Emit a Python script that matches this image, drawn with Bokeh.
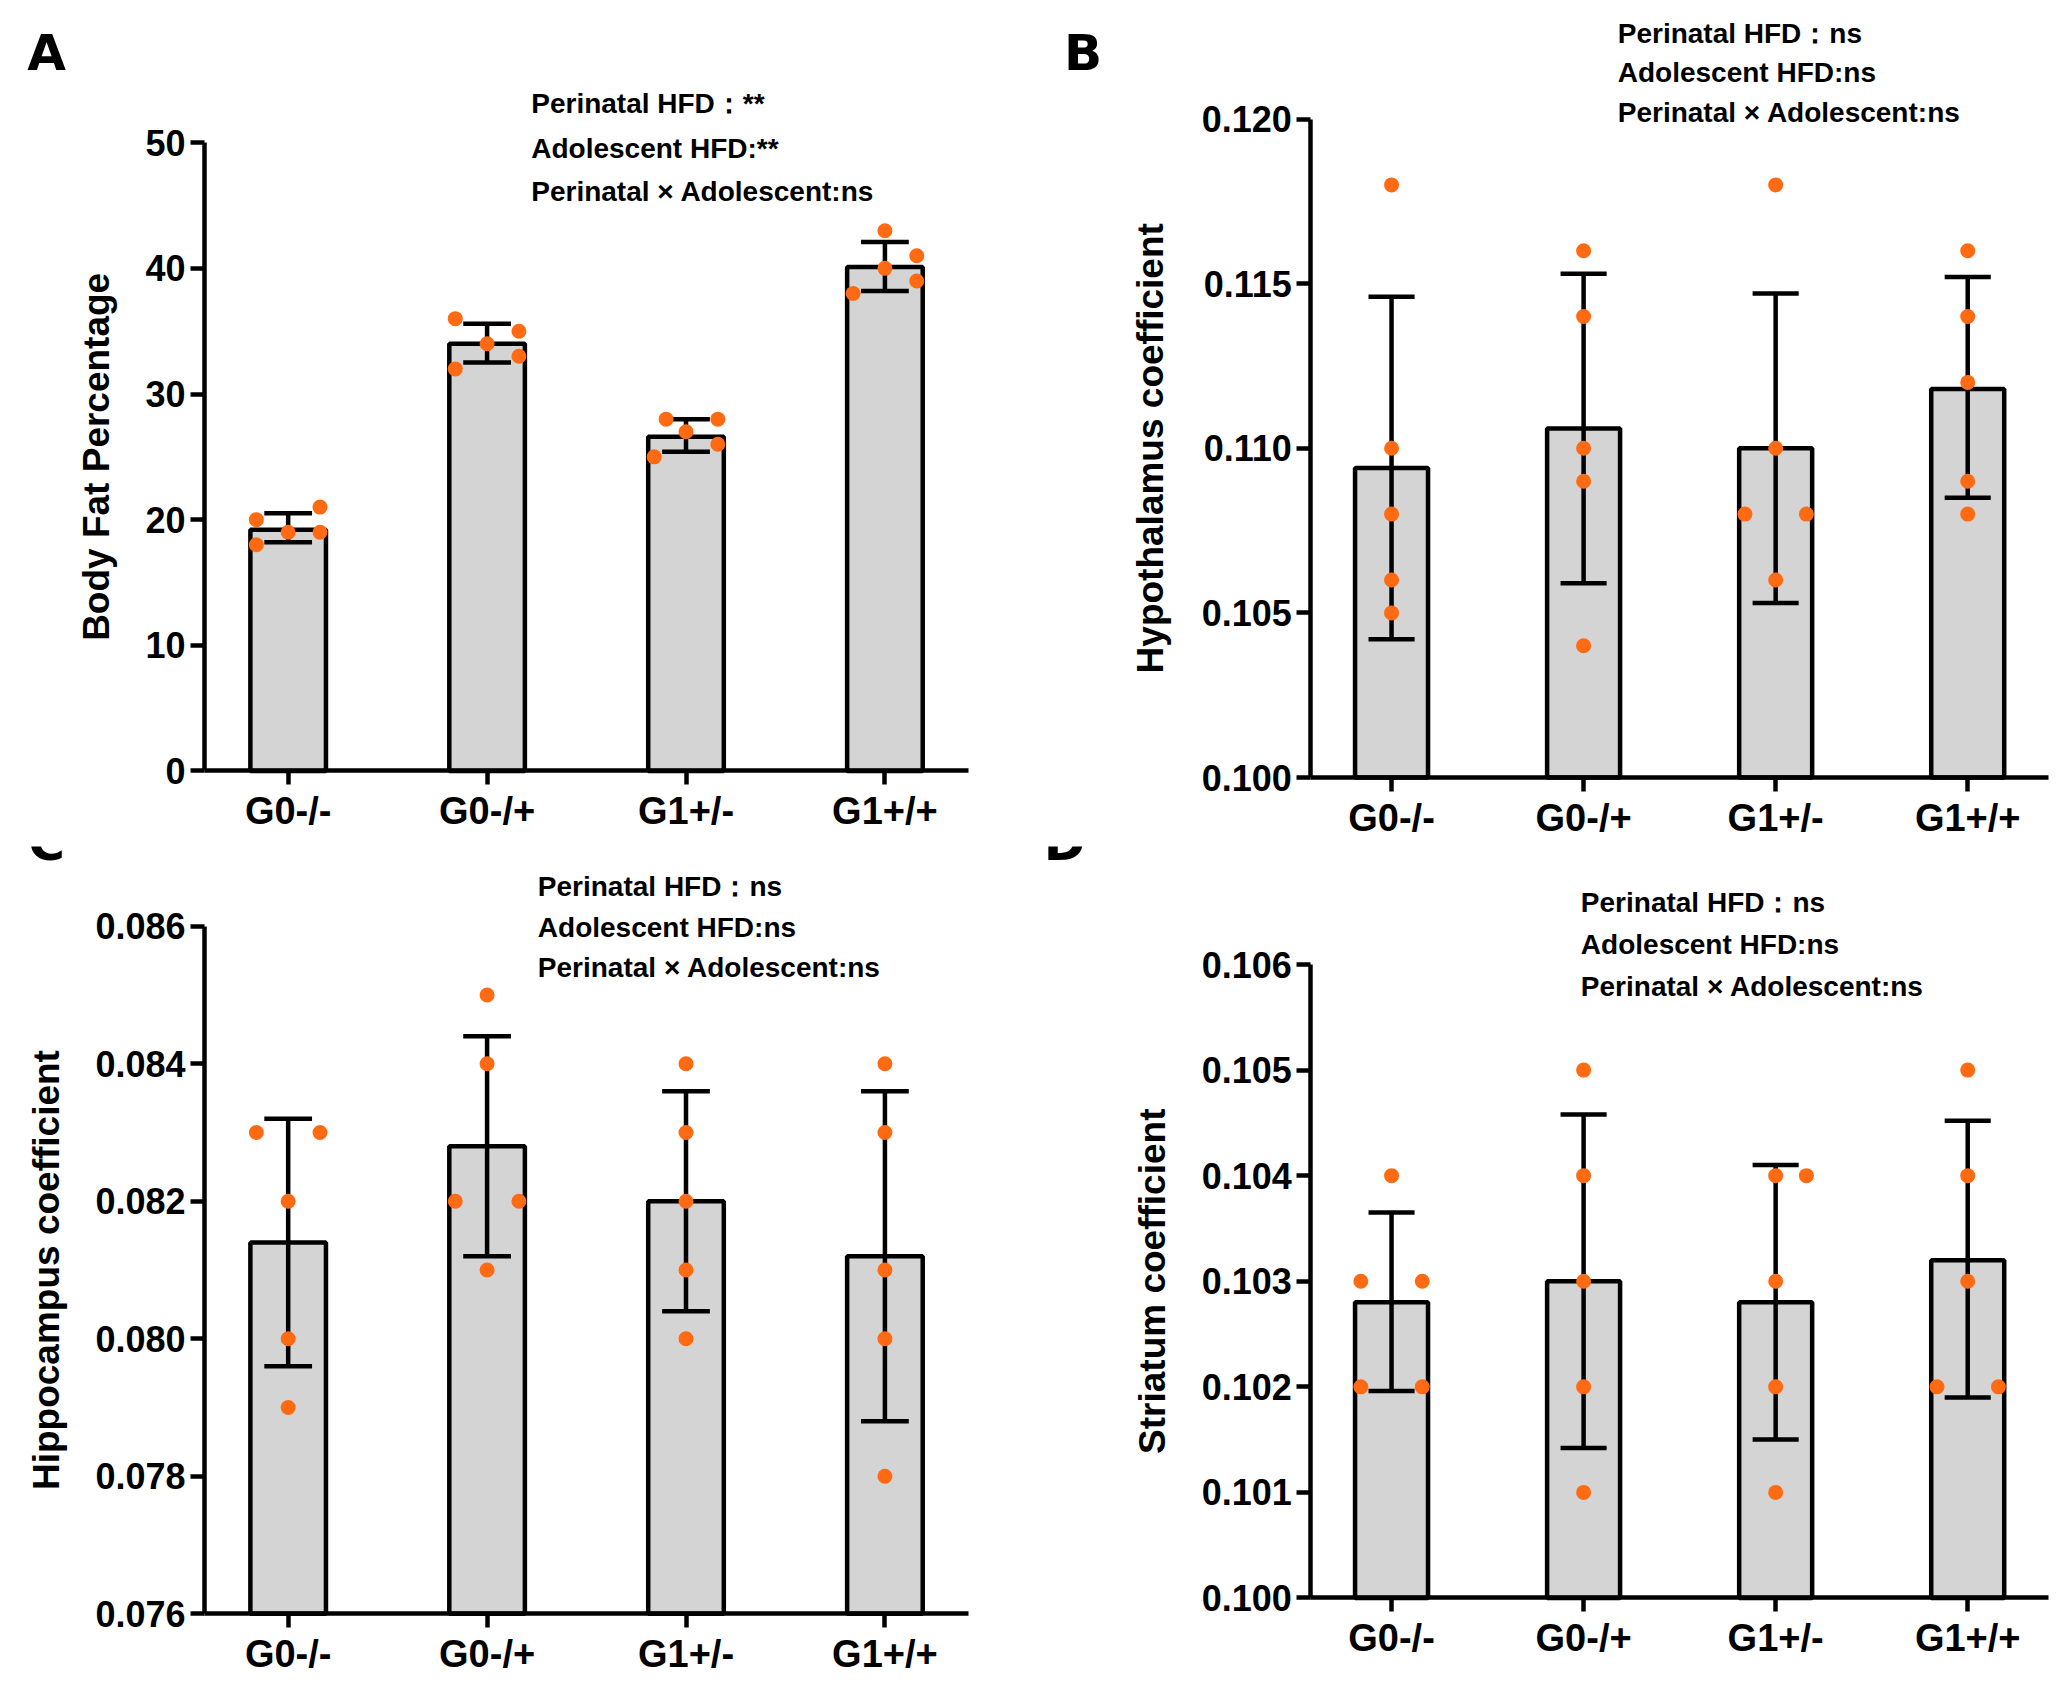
import math
from bokeh.plotting import figure
from bokeh.layouts import gridplot
from bokeh.models import Range1d, Label, FixedTicker, NumeralTickFormatter
from bokeh.embed import file_html
from bokeh.resources import INLINE

cats = ["G0-/-", "G0-/+", "G1+/-", "G1+/+"]

a_mean = [19.2, 34.0, 26.6, 40.1]
a_lo = [18.2, 32.5, 25.4, 38.2]
a_hi = [20.5, 35.6, 28.0, 42.1]
a_pts = [[18, 20, 19, 19, 21], [32, 36, 34, 35, 33], [25, 28, 27, 28, 26], [38, 43, 40, 41, 39]]

b_mean = [0.1094, 0.1106, 0.1100, 0.1118]
b_lo = [0.1042, 0.1059, 0.1053, 0.1085]
b_hi = [0.1146, 0.1153, 0.1147, 0.1152]
b_pts = [[0.118, 0.110, 0.108, 0.106, 0.105], [0.116, 0.114, 0.110, 0.109, 0.104],
         [0.118, 0.110, 0.108, 0.108, 0.106], [0.116, 0.114, 0.112, 0.109, 0.108]]

c_mean = [0.0814, 0.0828, 0.0820, 0.0812]
c_lo = [0.0796, 0.0812, 0.0804, 0.0788]
c_hi = [0.0832, 0.0844, 0.0836, 0.0836]
c_pts = [[0.083, 0.083, 0.082, 0.080, 0.079], [0.085, 0.084, 0.082, 0.082, 0.081],
         [0.084, 0.083, 0.082, 0.081, 0.080], [0.084, 0.083, 0.081, 0.080, 0.078]]

d_mean = [0.1028, 0.1030, 0.1028, 0.1032]
d_lo = [0.10196, 0.10142, 0.1015, 0.1019]
d_hi = [0.10365, 0.10458, 0.1041, 0.10452]
d_pts = [[0.104, 0.103, 0.103, 0.102, 0.102], [0.105, 0.104, 0.103, 0.102, 0.101],
         [0.104, 0.104, 0.103, 0.102, 0.101], [0.105, 0.104, 0.103, 0.102, 0.102]]

# horizontal offsets of dots (layout)
a_off = [[-0.16, -0.16, 0, 0.16, 0.16], [-0.16, -0.16, 0, 0.16, 0.16], [-0.16, -0.1, 0, 0.16, 0.16], [-0.16, 0, 0, 0.16, 0.16]]
b_off = [[0] * 5, [0] * 5, [0, 0, -0.16, 0.16, 0], [0] * 5]
c_off = [[-0.16, 0.16, 0, 0, 0], [0, 0, -0.16, 0.16, 0], [0] * 5, [0] * 5]
d_off = [[0, -0.16, 0.16, -0.16, 0.16], [0] * 5, [0, 0.16, 0, 0, 0], [0, 0, 0, -0.16, 0.16]]

S = 2065 / 1568.0
FONT = "Liberation Sans"
X0, X1 = -0.42, 3.42


def panel(letter, ytitle, mean, lo, hi, pts, offs, yr, ticks, fmt, frame, fig_origin, size, ann, ann_x, ann_ys,
          letter_pos, title_x):
    W, H = size
    fl, fr, ft, fb = [v * S for v in frame]
    ox, oy = fig_origin
    # map whole figure area to data
    kx = (X1 - X0) / (fr - fl)
    ky = (yr[1] - yr[0]) / (fb - ft)
    xr = Range1d(X0 - (fl - ox) * kx, X1 + (ox + W - fr) * kx)
    yrng = Range1d(yr[0] - (oy + H - fb) * ky, yr[1] + (ft - oy) * ky)
    p = figure(width=W, height=H, output_backend="svg", toolbar_location=None,
               x_range=xr, y_range=yrng, x_axis_location=None, y_axis_location=None,
               min_border=0)
    p.outline_line_color = None
    p.grid.grid_line_color = None
    x = list(range(4))
    p.vbar(x=x, top=mean, bottom=yr[0], width=0.38, fill_color="#d4d4d4", line_color="black", line_width=4.5)
    p.segment(x0=x, x1=x, y0=lo, y1=hi, line_color="black", line_width=4.5)
    p.segment(x0=[i - 0.12 for i in x], x1=[i + 0.12 for i in x], y0=hi, y1=hi, line_color="black", line_width=4.5)
    p.segment(x0=[i - 0.12 for i in x], x1=[i + 0.12 for i in x], y0=lo, y1=lo, line_color="black", line_width=4.5)
    xs, ys = [], []
    for i in range(4):
        for v, o in zip(pts[i], offs[i]):
            xs.append(i + o)
            ys.append(v)
    p.scatter(xs, ys, size=15, fill_color="#ff6a13", line_color=None)

    from bokeh.models import LinearAxis
    xa = LinearAxis(fixed_location=yr[0], bounds=(X0, X1))
    ya = LinearAxis(fixed_location=X0, bounds=yr)
    xa.ticker = FixedTicker(ticks=x)
    xa.major_label_overrides = {i: c for i, c in enumerate(cats)}
    ya.ticker = FixedTicker(ticks=ticks)
    ya.formatter = NumeralTickFormatter(format=fmt)
    for ax in (xa, ya):
        ax.axis_line_width = 4.5
        ax.major_tick_line_width = 4.5
        ax.major_tick_out = 14
        ax.major_tick_in = 0
        ax.minor_tick_line_color = None
        ax.major_label_text_font = FONT
        ax.major_label_text_font_style = "bold"
        ax.major_label_text_color = "black"
        ax.axis_line_color = "black"
        ax.major_tick_line_color = "black"
    xa.major_label_text_font_size = "38px"
    ya.major_label_text_font_size = "36px"
    p.add_layout(xa, "below")
    p.add_layout(ya, "left")

    def to_data(dx, dy):
        px, py = dx * S, dy * S
        return X0 + (px - fl) * kx, yr[0] + (fb - py) * ky

    for t, dy in zip(ann, ann_ys):
        xd, yd = to_data(ann_x, dy)
        p.add_layout(Label(x=xd, y=yd, text=t, text_font=FONT, text_font_style="bold",
                           text_font_size="28px", text_baseline="middle", text_color="black"))
    xd, yd = to_data(*letter_pos)
    p.add_layout(Label(x=xd, y=yd, text=letter, text_font="DejaVu Sans", text_font_style="bold",
                       text_font_size="50px", text_baseline="middle", text_align="center", text_color="black"))
    xd, yd = to_data(title_x, (frame[2] + frame[3]) / 2)
    p.add_layout(Label(x=xd, y=yd, text=ytitle, text_font=FONT, text_font_style="bold", angle=math.pi / 2,
                       text_font_size="37px", text_baseline="middle", text_align="center", text_color="black"))
    return p


ann_star = ["Perinatal HFD：**", "Adolescent HFD:**", "Perinatal × Adolescent:ns"]
ann_ns = ["Perinatal HFD：ns", "Adolescent HFD:ns", "Perinatal × Adolescent:ns"]

pa = panel("A", "Body Fat Percentage", a_mean, a_lo, a_hi, a_pts, a_off, (0, 50), [0, 10, 20, 30, 40, 50], "0",
           (155, 735, 108, 585), (0, 0), (1024, 846), ann_star, 403, [78, 112, 145], (35, 40), 73)
pb = panel("B", "Hypothalamus coefficient", b_mean, b_lo, b_hi, b_pts, b_off, (0.100, 0.120),
           [0.100, 0.105, 0.110, 0.115, 0.120], "0.000",
           (995, 1555, 90, 590), (1024, 0), (1025, 846), ann_ns, 1228, [25, 55, 85], (822, 40), 873)
pc = panel("C", "Hippocampus coefficient", c_mean, c_lo, c_hi, c_pts, c_off, (0.076, 0.086),
           [0.076, 0.078, 0.080, 0.082, 0.084, 0.086], "0.000",
           (155, 735, 703, 1225), (0, 846), (1024, 831), ann_ns, 408, [673, 704, 734], (35, 640), 35)
pd_ = panel("D", "Striatum coefficient", d_mean, d_lo, d_hi, d_pts, d_off, (0.100, 0.106),
            [0.100, 0.101, 0.102, 0.103, 0.104, 0.105, 0.106], "0.000",
            (995, 1555, 732, 1213), (1024, 846), (1025, 831), ann_ns, 1200, [685, 717, 749], (808, 640), 875)

g = gridplot([[pa, pb], [pc, pd_]], toolbar_location=None)
open("out.html", "w").write(file_html(g, INLINE))
